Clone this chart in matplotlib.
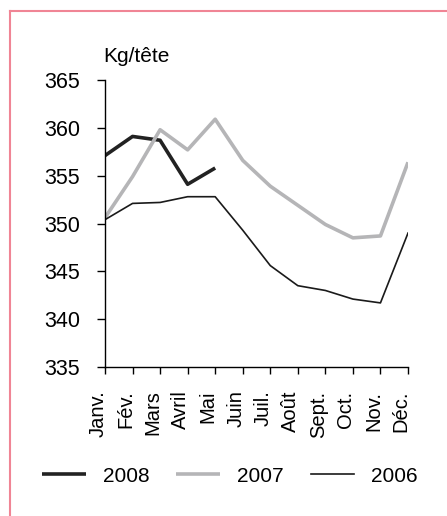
import matplotlib
matplotlib.use('Agg')
import matplotlib.pyplot as plt
import matplotlib.transforms as mtransforms
from matplotlib.lines import Line2D

plt.rcParams['font.family'] = ['Liberation Sans', 'DejaVu Sans']

months = ['Janv.', 'Fév.', 'Mars', 'Avril', 'Mai', 'Juin', 'Juil.', 'Août',
          'Sept.', 'Oct.', 'Nov.', 'Déc.']
y2008 = [357.1, 359.1, 358.7, 354.1, 355.8]
y2007 = [350.6, 354.9, 359.8, 357.7, 360.9, 356.6, 353.9, 351.9, 349.9, 348.5, 348.7, 356.4]
y2006 = [350.4, 352.1, 352.2, 352.8, 352.8, 349.3, 345.6, 343.5, 343.0, 342.1, 341.7, 349.0]

fig = plt.figure(figsize=(4.47, 5.16), dpi=100)
ax = fig.add_axes([105 / 447, 1 - 367 / 516, 303 / 447, 287 / 516])

ax.plot(range(len(y2008)), y2008, color='#222222', lw=2.6, label='2008', solid_capstyle='butt')
ax.plot(range(len(y2007)), y2007, color='#b5b5b7', lw=2.6, label='2007', solid_capstyle='butt')
ax.plot(range(len(y2006)), y2006, color='#1a1a1a', lw=1.2, label='2006')

ax.set_xlim(0, 11)
ax.set_ylim(335, 365)
ax.set_yticks(range(335, 366, 5))
ax.set_xticks(range(12))
ax.set_xticklabels(months, rotation=90, fontsize=14.5)
ax.tick_params(axis='y', labelsize=15.5, length=6, width=1, pad=12)
ax.tick_params(axis='x', length=5, width=1, pad=12)
offset = mtransforms.ScaledTranslation(-7 / 100, 0, fig.dpi_scale_trans)
for lab in ax.get_xticklabels():
    lab.set_transform(lab.get_transform() + offset)
    lab.set_va('top')

for s in ['top', 'right']:
    ax.spines[s].set_visible(False)
ax.spines['left'].set_linewidth(1)
ax.spines['bottom'].set_linewidth(1)

fig.text(103 / 447, 1 - 57 / 516, 'Kg/tête', fontsize=15, ha='left', va='center')

ax.legend(loc='center', bbox_to_anchor=(230 / 447, 1 - 476 / 516),
          bbox_transform=fig.transFigure, ncol=3, frameon=False, fontsize=15,
          handlelength=2.1, handletextpad=0.8, columnspacing=1.3)

# pink frame
fig.add_artist(Line2D([10 / 447, 10 / 447], [0, 1 - 11 / 516], transform=fig.transFigure,
                      color='#f08595', lw=1.5))
fig.add_artist(Line2D([10 / 447, 1], [1 - 11 / 516, 1 - 11 / 516], transform=fig.transFigure,
                      color='#f08595', lw=1.5))

fig.savefig('out.png', dpi=100)
